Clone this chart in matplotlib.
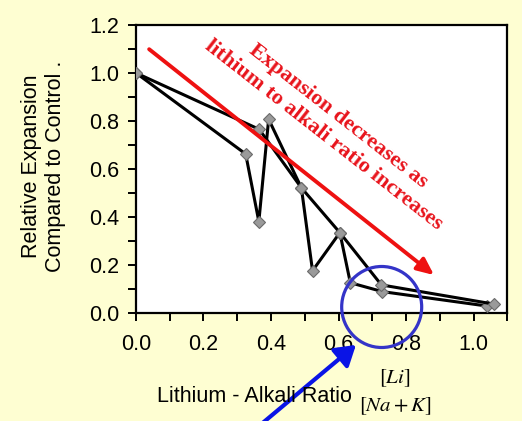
import numpy as np
import matplotlib
matplotlib.use('Agg')
import matplotlib.pyplot as plt
from matplotlib.patches import Ellipse, FancyArrowPatch
from matplotlib.ticker import MultipleLocator

# serie 1 (zigzag)
s1_x = [0.0, 0.325, 0.364, 0.393, 0.490, 0.523, 0.604, 0.635, 0.730, 1.039]
s1_y = [1.0, 0.662, 0.380, 0.807, 0.521, 0.175, 0.334, 0.125, 0.088, 0.028]
# serie 2
s2_x = [0.0, 0.365, 0.490, 0.604, 0.727, 1.060]
s2_y = [1.0, 0.765, 0.521, 0.334, 0.116, 0.036]

x_ticks = [0.0, 0.2, 0.4, 0.6, 0.8, 1.0]
y_ticks = [0.0, 0.2, 0.4, 0.6, 0.8, 1.0, 1.2]

# flecha roja de tendencia (en datos)
trend_start = (0.039, 1.099)
trend_end = (0.883, 0.157)

bg = '#fefed2'
plt.rcParams['font.family'] = ['Liberation Sans', 'DejaVu Sans']
plt.rcParams['mathtext.fontset'] = 'stix'

fig = plt.figure(figsize=(5.22, 4.21), dpi=100, facecolor=bg)
ax = fig.add_axes([0.2605, 0.2572, 0.7113, 0.6834])

for xs, ys in [(s1_x, s1_y), (s2_x, s2_y)]:
    ax.plot(xs, ys, color='black', linewidth=2.2, marker='D', markersize=6.5,
            markerfacecolor='#9a9a9a', markeredgecolor='#6a6a6a',
            markeredgewidth=0.8, zorder=3)

ax.set_xlim(0, 1.1)
ax.set_ylim(0, 1.2)
ax.set_xticks(x_ticks)
ax.set_yticks(y_ticks)
ax.set_xticklabels([f'{v:.1f}' for v in x_ticks])
ax.set_yticklabels([f'{v:.1f}' for v in y_ticks])
ax.xaxis.set_minor_locator(MultipleLocator(0.1))
ax.yaxis.set_minor_locator(MultipleLocator(0.1))
ax.tick_params(axis='both', which='both', direction='out', width=1.4,
               color='black', labelsize=15.5)
ax.tick_params(axis='x', which='both', length=5.5, pad=10)
ax.tick_params(axis='y', which='both', length=6, pad=6)
for sp in ax.spines.values():
    sp.set_linewidth(1.6)

# flecha roja y texto
ax.annotate('', xy=trend_end, xytext=trend_start,
            arrowprops=dict(arrowstyle='-|>,head_length=1.0,head_width=0.45',
                            color='#ee1111', lw=2.8, shrinkA=0, shrinkB=0),
            zorder=4)
ax.text(0.577, 0.781, 'Expansion decreases as\nlithium to alkali ratio increases',
        rotation=-38, rotation_mode='anchor', ha='center', va='center',
        multialignment='center', color='#e8141c', fontsize=16,
        fontweight='bold', family='Liberation Serif', linespacing=1.3,
        zorder=4)

# etiquetas
fig.text(0.0833, 0.605, 'Relative Expansion\nCompared to Control .',
         rotation=90, ha='center', va='center', fontsize=15.5,
         linespacing=1.15)
fig.text(0.487, 0.059, 'Lithium - Alkali Ratio', ha='center', va='center',
         fontsize=15.5)
fig.text(0.757, 0.102, r'$[Li]$', ha='center', va='center', fontsize=15)
fig.text(0.757, 0.036, r'$[Na + K]$', ha='center', va='center', fontsize=15)

# circulo y flecha azul
circ = Ellipse((0.7312, 0.2708), 80 / 522, 81 / 421, transform=fig.transFigure,
               fill=False, edgecolor='#3434c8', linewidth=2.3, zorder=5)
fig.add_artist(circ)
blue = FancyArrowPatch((0.498, -0.01), (0.686, 0.185), transform=fig.transFigure,
                       arrowstyle='-|>,head_length=8,head_width=5',
                       color='#0a14e6', linewidth=3.0, mutation_scale=1.5)
fig.add_artist(blue)

fig.savefig('out.png', dpi=100, facecolor=bg)
